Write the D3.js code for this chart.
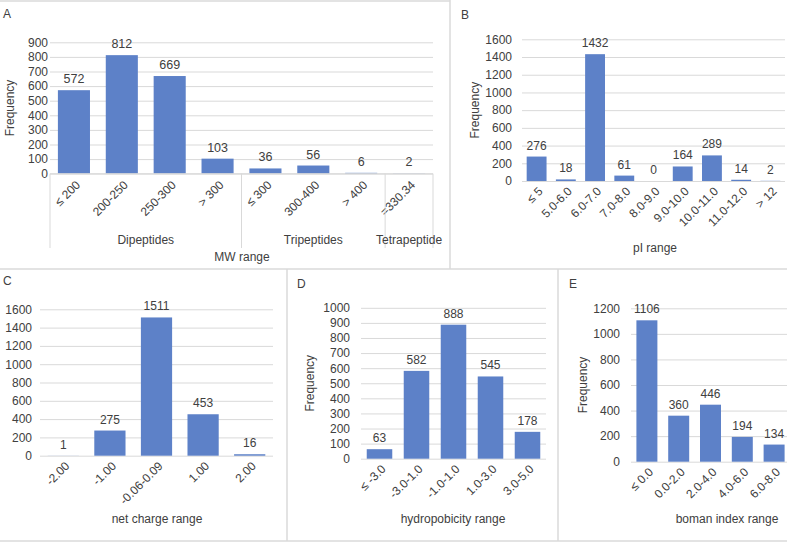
<!DOCTYPE html>
<html>
<head>
<meta charset="utf-8">
<script src="https://cdn.jsdelivr.net/npm/d3@7"></script>
<style>
  html, body { margin: 0; padding: 0; background: #fff; }
  svg { display: block; font-family: "Liberation Sans", Arial, sans-serif; }
</style>
</head>
<body>
<svg id="chart" width="787" height="543"></svg>
<script>
// ---------- data ----------
const mwCategories = ["≤ 200", "200-250", "250-300", "> 300", "≤ 300", "300-400", "> 400", "=330.34"];
const mwValues = [572, 812, 669, 103, 36, 56, 6, 2];
const mwGroups = ["Dipeptides", "Tripeptides", "Tetrapeptide"];
const mwGroupSizes = [4, 3, 1];
const mwTicks = [0, 100, 200, 300, 400, 500, 600, 700, 800, 900];

const piCategories = ["≤ 5", "5.0-6.0", "6.0-7.0", "7.0-8.0", "8.0-9.0", "9.0-10.0", "10.0-11.0", "11.0-12.0", "> 12"];
const piValues = [276, 18, 1432, 61, 0, 164, 289, 14, 2];
const piTicks = [0, 200, 400, 600, 800, 1000, 1200, 1400, 1600];

const chargeCategories = ["-2.00", "-1.00", "-0.06-0.09", "1.00", "2.00"];
const chargeValues = [1, 275, 1511, 453, 16];
const chargeTicks = [0, 200, 400, 600, 800, 1000, 1200, 1400, 1600];

const hydroCategories = ["≤ -3.0", "-3.0-1.0", "-1.0-1.0", "1.0-3.0", "3.0-5.0"];
const hydroValues = [63, 582, 888, 545, 178];
const hydroTicks = [0, 100, 200, 300, 400, 500, 600, 700, 800, 900, 1000];

const bomanCategories = ["≤ 0.0", "0.0-2.0", "2.0-4.0", "4.0-6.0", "6.0-8.0"];
const bomanValues = [1106, 360, 446, 194, 134];
const bomanTicks = [0, 200, 400, 600, 800, 1000, 1200];

// ---------- style ----------
const BAR = "#5d81c8";
const TXT = "#404040";
const GRID = "#d9d9d9";
const BORDER = "#dadada";
const FS = 12;

const svg = d3.select("#chart");

// panel borders
const borders = [
  [0, 1, 450, 1],
  [450, 0, 450, 269],
  [0, 269, 787, 269],
  [287, 269, 287, 541],
  [558, 269, 558, 541],
  [0, 541, 787, 541]
];
svg.append("g").selectAll("line").data(borders).join("line")
  .attr("x1", d => d[0]).attr("y1", d => d[1])
  .attr("x2", d => d[2]).attr("y2", d => d[3])
  .attr("stroke", BORDER).attr("stroke-width", 1.5);

function panel(cfg) {
  const g = svg.append("g");
  const x = d3.scaleBand().domain(cfg.categories)
    .range([cfg.x0, cfg.x1]).paddingInner(cfg.pad).paddingOuter(cfg.pad / 2);
  const y = d3.scaleLinear().domain([0, d3.max(cfg.ticks)]).range([cfg.yb, cfg.yt]);

  // panel letter
  g.append("text").attr("x", cfg.lx).attr("y", cfg.ly)
    .attr("font-size", FS).attr("fill", TXT).text(cfg.letter);

  // gridlines + y tick labels
  const yAxis = d3.axisLeft(y).tickValues(cfg.ticks).tickSize(0).tickPadding(0)
    .tickFormat(d3.format("d"));
  const ga = g.append("g").attr("transform", `translate(${cfg.x0},0)`).call(yAxis);
  ga.select(".domain").remove();
  ga.selectAll(".tick text").attr("x", -cfg.labGap).attr("font-size", FS)
    .attr("fill", TXT).attr("font-family", "Liberation Sans, Arial, sans-serif");
  ga.selectAll(".tick").append("line")
    .attr("x1", 0).attr("x2", cfg.x1 - cfg.x0)
    .attr("stroke", GRID).attr("stroke-width", 1);

  // bars
  g.append("g").selectAll("rect").data(cfg.values).join("rect")
    .attr("x", (d, i) => x(cfg.categories[i]))
    .attr("width", x.bandwidth())
    .attr("y", d => y(d))
    .attr("height", d => y(0) - y(d))
    .attr("fill", BAR);

  // value labels
  g.append("g").selectAll("text").data(cfg.values).join("text")
    .attr("x", (d, i) => x(cfg.categories[i]) + x.bandwidth() / 2)
    .attr("y", d => y(d) - 7)
    .attr("text-anchor", "middle").attr("font-size", cfg.vfs || FS).attr("fill", TXT)
    .text(d => d);

  // category labels
  const xAxis = d3.axisBottom(x).tickSize(0).tickPadding(0);
  const gx = g.append("g").attr("transform", `translate(0,${cfg.yb})`).call(xAxis);
  gx.select(".domain").remove();
  gx.selectAll(".tick text")
    .attr("font-size", FS).attr("fill", TXT)
    .attr("font-family", "Liberation Sans, Arial, sans-serif")
    .attr("text-anchor", "end")
    .attr("y", 0).attr("dy", "0.35em")
    .attr("transform", `translate(4,${cfg.catOff}) rotate(-45)`);

  // y title
  if (cfg.ytitle) {
    g.append("text")
      .attr("transform", `translate(${cfg.ytx},${(cfg.yt + cfg.yb) / 2}) rotate(-90)`)
      .attr("text-anchor", "middle").attr("dy", "0.35em")
      .attr("font-size", FS).attr("fill", TXT).text(cfg.ytitle);
  }
  // x title
  g.append("text").attr("x", cfg.xtx).attr("y", cfg.xty)
    .attr("text-anchor", "middle").attr("font-size", FS).attr("fill", TXT)
    .text(cfg.xtitle);
  return { g, x, y };
}

// ---------- Panel A ----------
const A = panel({
  letter: "A", lx: 3, ly: 18,
  categories: mwCategories, values: mwValues, ticks: mwTicks,
  x0: 50, x1: 433, yt: 42.3, yb: 173.7, pad: 0.33, labGap: 2, catOff: 9, vfs: 12.5,
  ytitle: "Frequency", ytx: 10, xtitle: "MW range", xtx: 242, xty: 261
});
// multi-level category axis
{
  const g = A.g;
  const step = A.x.step();
  g.append("line").attr("x1", 50).attr("x2", 433).attr("y1", 173.7).attr("y2", 173.7)
    .attr("stroke", GRID);
  let cum = 0;
  const bounds = [0];
  mwGroupSizes.forEach(s => { cum += s; bounds.push(cum); });
  g.append("g").selectAll("line").data(bounds).join("line")
    .attr("x1", d => 50 + d * step).attr("x2", d => 50 + d * step)
    .attr("y1", 173.7).attr("y2", 248).attr("stroke", GRID);
  g.append("g").selectAll("text").data(mwGroups).join("text")
    .attr("x", (d, i) => 50 + (bounds[i] + bounds[i + 1]) / 2 * step)
    .attr("y", 244).attr("text-anchor", "middle")
    .attr("font-size", FS).attr("fill", TXT).text(d => d);
}

// ---------- Panel B ----------
panel({
  letter: "B", lx: 461, ly: 19,
  categories: piCategories, values: piValues, ticks: piTicks,
  x0: 522, x1: 785, yt: 39.3, yb: 181, pad: 0.32, labGap: 10, catOff: 8,
  ytitle: "Frequency", ytx: 475, xtitle: "pI range", xtx: 655, xty: 252
});

// ---------- Panel C ----------
panel({
  letter: "C", lx: 3, ly: 285,
  categories: chargeCategories, values: chargeValues, ticks: chargeTicks,
  x0: 40, x1: 273, yt: 309.3, yb: 455.7, pad: 0.33, labGap: 8, catOff: 8,
  ytitle: null, xtitle: "net charge range", xtx: 157, xty: 523
});

// ---------- Panel D ----------
panel({
  letter: "D", lx: 297, ly: 288,
  categories: hydroCategories, values: hydroValues, ticks: hydroTicks,
  x0: 361, x1: 546, yt: 307.8, yb: 458.7, pad: 0.31, labGap: 11, catOff: 8,
  ytitle: "Frequency", ytx: 310, xtitle: "hydropobicity range", xtx: 453, xty: 523
});

// ---------- Panel E ----------
panel({
  letter: "E", lx: 569, ly: 288,
  categories: bomanCategories, values: bomanValues, ticks: bomanTicks,
  x0: 631, x1: 790, yt: 308.3, yb: 461.7, pad: 0.34, labGap: 11, catOff: 8,
  ytitle: "Frequency", ytx: 583, xtitle: "boman index range", xtx: 727, xty: 523
});
</script>
</body>
</html>
